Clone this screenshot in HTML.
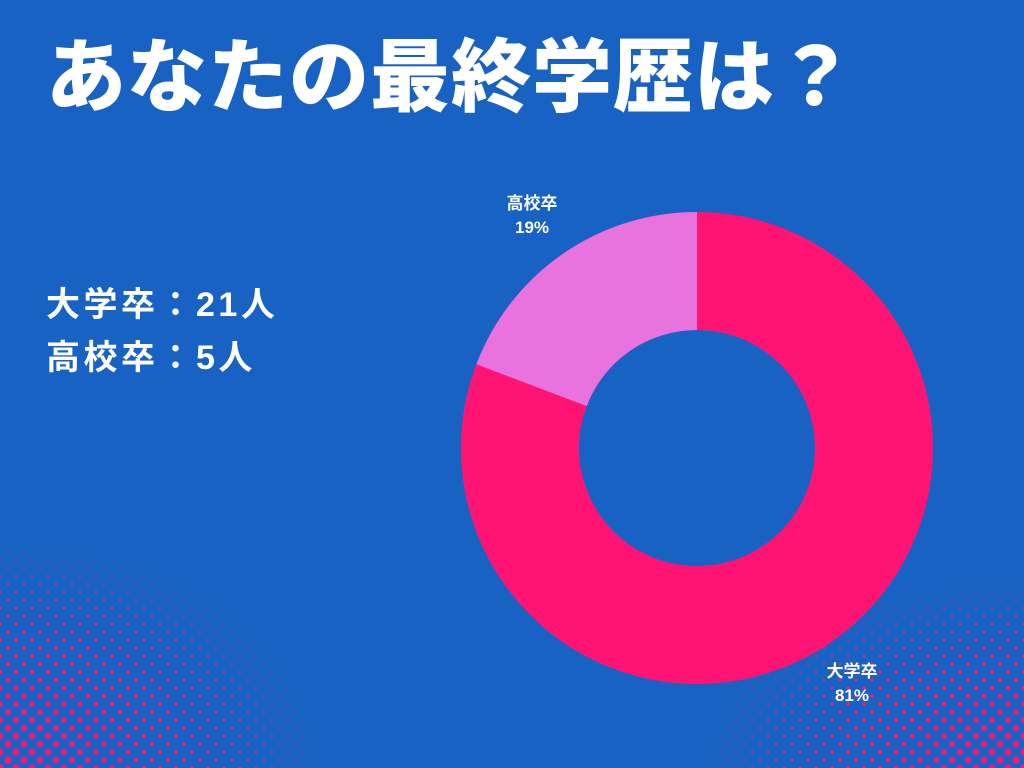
<!DOCTYPE html>
<html><head><meta charset="utf-8"><style>
body{margin:0;width:1024px;height:768px;overflow:hidden;background:#1862c4;font-family:"Liberation Sans","Noto Sans CJK JP",sans-serif;color:#fff;position:relative}
.t{position:absolute;left:46px;top:30px;font-size:80px;font-weight:900;letter-spacing:1px;line-height:1.2;margin:0;white-space:nowrap}
.s{position:absolute;left:46px;font-size:34px;font-weight:700;line-height:1;white-space:nowrap;letter-spacing:3.5px}
.l{position:absolute;font-size:17px;font-weight:700;text-align:center;line-height:24px}
svg{position:absolute;left:0;top:0}
</style></head><body>
<svg id="dots" width="1024" height="768"></svg>
<svg width="1024" height="768">
<circle cx="697" cy="448" r="177" fill="none" stroke="#ff1473" stroke-width="118"/>
<path d="M697 212 A236 236 0 0 0 476.4 364.2 L586.7 406.1 A118 118 0 0 1 697 330 Z" fill="#e872de"/>
</svg>
<div class="t">あなたの最終学歴は？</div>
<div class="s" style="top:288px">大学卒：21人</div>
<div class="s" style="top:341px">高校卒：5人</div>
<div class="l" style="left:500px;top:192px;width:64px">高校卒<br>19%</div>
<div class="l" style="left:815px;top:660px;width:74px">大学卒<br>81%</div>
<script>
var s=document.getElementById('dots'),h='';
for(var row=0;row*8<=280;row++){var y=768-row*8;var off=(row%2)*8;
for(var x=off;x<=1024;x+=16){
var d1=Math.sqrt(Math.pow(x/340,2)+Math.pow((768-y)/240,2));
var d2=Math.sqrt(Math.pow((1024-x)/340,2)+Math.pow((768-y)/200,2));
var d=Math.min(d1,d2);var r=3.8*(1-d*0.9);
if(r>0.7)h+='<circle cx="'+x+'" cy="'+y+'" r="'+r.toFixed(2)+'" fill="#ff1473"/>';}}
s.innerHTML=h;
</script>
</body></html>
